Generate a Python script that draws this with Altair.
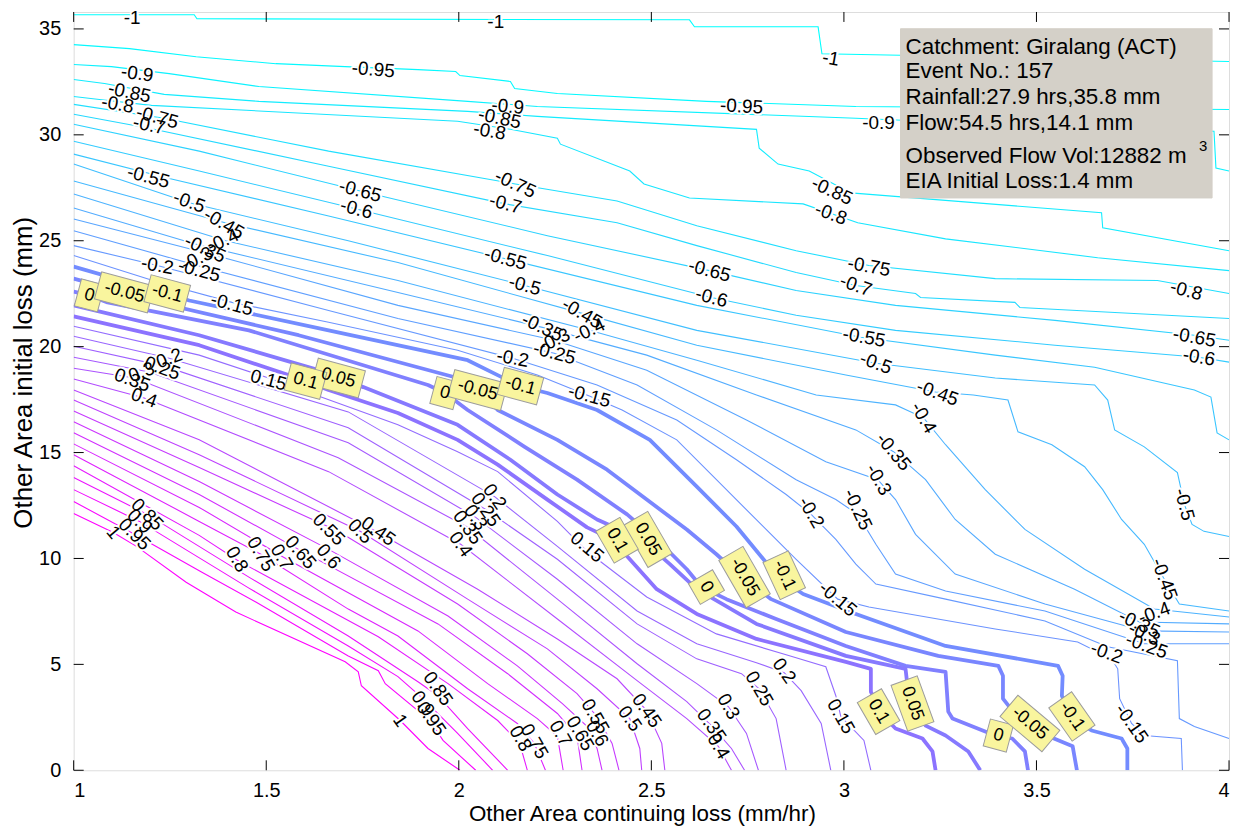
import altair as alt
import pandas as pd

FONT = "Liberation Sans"

# ---------------- contour lines (x: mm/hr, y: mm) ----------------
NEG_THIN = [
    (-1.00, [1.000, 1.313, 1.320, 2.599, 2.612, 2.933, 2.943, 4.000],
            [35.67, 35.67, 35.48, 35.43, 35.10, 35.10, 33.83, 33.46]),
    (-0.95, [1.000, 1.145, 1.318, 1.525, 1.705, 1.894, 1.992, 2.003, 2.134, 2.145, 2.256, 2.643, 3.031, 4.000],
            [34.26, 34.07, 33.69, 33.36, 33.22, 33.08, 32.99, 32.80, 32.52, 32.19, 31.95, 31.58, 31.34, 31.20]),
    (-0.90, [1.000, 1.098, 1.248, 1.481, 2.023, 2.204, 3.031, 3.393, 3.961, 3.966, 4.000],
            [33.32, 33.22, 32.89, 32.28, 31.58, 31.34, 30.78, 30.50, 30.17, 28.43, 28.29]),
    (-0.85, [1.000, 1.080, 1.235, 1.481, 2.023, 2.204, 2.773, 2.780, 2.829, 2.910, 3.018, 3.669, 3.672, 4.000],
            [32.61, 32.42, 31.91, 31.58, 31.11, 30.87, 30.26, 29.37, 28.62, 28.29, 27.26, 26.32, 25.61, 24.53]),
    (-0.80, [1.000, 1.067, 1.202, 1.997, 2.134, 2.256, 2.264, 2.444, 2.481, 2.599, 2.894, 3.036, 3.264, 3.659, 4.000],
            [31.81, 31.67, 31.39, 30.64, 30.26, 29.84, 29.56, 28.29, 27.68, 27.02, 26.74, 25.85, 25.09, 24.20, 23.59]),
    (-0.75, [1.000, 1.235, 1.662, 2.147, 2.411, 2.618, 2.876, 3.065, 3.393, 3.814, 4.000],
            [31.44, 30.78, 29.23, 27.68, 26.88, 25.71, 24.53, 23.83, 23.21, 23.12, 22.51]),
    (-0.70, [1.000, 1.196, 1.662, 2.121, 2.411, 2.618, 2.876, 3.031, 3.186, 3.199, 3.444, 3.457, 4.000],
            [30.97, 30.31, 28.52, 26.74, 25.85, 24.77, 23.50, 22.89, 22.51, 22.32, 22.09, 21.85, 21.33]),
    (-0.65, [1.000, 1.326, 1.744, 2.230, 2.651, 2.876, 3.134, 3.548, 3.910, 4.000],
            [30.50, 29.23, 27.35, 25.24, 23.59, 22.65, 21.95, 21.24, 20.54, 20.30]),
    (-0.60, [1.000, 1.326, 1.734, 2.230, 2.656, 2.876, 3.134, 3.548, 3.922, 4.000],
            [29.70, 28.29, 26.50, 24.30, 22.32, 21.48, 20.77, 20.07, 19.50, 19.27]),
    (-0.55, [1.000, 1.243, 1.662, 2.121, 2.618, 3.044, 3.393, 3.651, 3.910, 3.953, 3.969, 4.000],
            [29.09, 27.96, 26.17, 24.15, 21.95, 20.44, 19.60, 19.03, 17.95, 17.62, 15.93, 15.60]),
    (-0.50, [1.000, 1.300, 1.713, 2.171, 2.618, 3.083, 3.393, 3.651, 3.685, 3.703, 3.780, 3.866, 3.884, 3.904, 3.935, 4.000],
            [28.62, 26.79, 25.00, 22.89, 20.77, 19.22, 18.52, 18.19, 17.48, 16.07, 15.27, 14.05, 12.55, 11.61, 11.28, 11.04]),
    (-0.45, [1.000, 1.393, 1.842, 2.320, 2.618, 3.005, 3.238, 3.336, 3.426, 3.452, 3.540, 3.625, 3.672, 3.721, 3.780, 3.832, 3.871, 4.000],
            [27.82, 25.85, 23.97, 21.57, 20.07, 18.66, 17.86, 17.72, 17.48, 15.98, 15.37, 14.33, 13.25, 11.84, 10.67, 9.02, 7.85, 7.52]),
    (-0.40, [1.000, 1.395, 1.842, 2.339, 2.618, 2.928, 3.134, 3.207, 3.264, 3.367, 3.470, 3.625, 3.806, 4.000],
            [27.21, 25.00, 23.12, 20.77, 19.36, 17.72, 17.25, 16.64, 15.37, 13.25, 11.37, 9.49, 7.61, 7.24]),
    (-0.35, [1.000, 1.313, 1.842, 2.217, 2.488, 2.773, 3.031, 3.129, 3.212, 3.289, 3.393, 3.599, 3.767, 4.000],
            [26.55, 24.86, 22.56, 20.91, 19.60, 17.72, 16.07, 15.04, 13.72, 11.84, 10.20, 8.55, 7.00, 6.91]),
    (-0.30, [1.000, 1.351, 1.842, 2.248, 2.488, 2.747, 2.953, 3.088, 3.134, 3.186, 3.289, 3.522, 3.780, 4.000],
            [26.03, 24.39, 21.95, 20.30, 18.89, 16.54, 14.57, 13.72, 12.78, 11.14, 9.26, 7.85, 6.58, 6.53]),
    (-0.25, [1.000, 1.351, 1.842, 2.248, 2.463, 2.669, 2.876, 2.979, 3.036, 3.083, 3.134, 3.264, 3.522, 3.780, 4.000],
            [25.47, 23.68, 21.33, 19.69, 18.19, 16.07, 13.72, 12.78, 12.08, 10.67, 9.26, 8.46, 7.52, 5.97, 5.97]),
    (-0.20, [1.000, 1.217, 1.662, 2.140, 2.359, 2.566, 2.721, 2.850, 2.915, 2.979, 3.031, 3.083, 3.264, 3.522, 3.685, 3.866, 3.871, 3.910, 4.000],
            [24.77, 23.83, 21.71, 19.45, 18.19, 16.54, 14.66, 13.02, 12.08, 10.90, 9.73, 8.79, 8.08, 7.05, 5.83, 5.17, 2.44, 2.07, 1.50]),
    (-0.15, [1.000, 1.222, 1.411, 1.662, 1.997, 2.204, 2.339, 2.424, 2.566, 2.669, 2.798, 2.876, 2.984, 3.065, 3.393, 3.607, 3.695, 3.711, 3.716, 3.747, 3.780, 3.876, 3.879],
            [24.30, 23.03, 22.09, 21.15, 19.83, 18.66, 17.67, 17.01, 15.60, 13.72, 11.37, 9.96, 8.08, 7.71, 6.67, 6.06, 5.26, 4.79, 3.38, 2.21, 1.64, 1.50, 0.00]),
]

THICK = [
    (-0.10, [1.000, 1.243, 1.300, 1.662, 2.023, 2.158, 2.230, 2.359, 2.496, 2.618, 2.721, 2.829, 2.894, 3.031, 3.264, 3.556, 3.568, 3.566, 3.592, 3.643, 3.721, 3.736, 3.736],
            [23.78, 22.51, 22.18, 20.77, 19.36, 18.14, 17.81, 17.01, 15.60, 13.39, 11.51, 9.12, 8.32, 7.38, 5.87, 4.93, 4.46, 3.52, 2.44, 1.88, 1.50, 1.03, 0.00]),
    (-0.05, [1.000, 1.132, 1.196, 1.584, 1.997, 2.049, 2.101, 2.256, 2.385, 2.488, 2.592, 2.669, 2.726, 2.811, 3.005, 3.245, 3.401, 3.413, 3.413, 3.470, 3.594, 3.605],
            [23.21, 22.56, 22.18, 20.54, 18.52, 17.95, 17.01, 15.60, 14.19, 12.78, 11.37, 10.20, 9.26, 8.08, 6.53, 5.40, 4.93, 4.46, 3.38, 2.07, 1.13, 0.00]),
    (0.00, [1.000, 1.041, 1.088, 1.455, 1.920, 1.964, 2.023, 2.171, 2.307, 2.437, 2.527, 2.592, 2.630, 2.695, 2.824, 3.005, 3.160, 3.264, 3.271, 3.282, 3.393, 3.437, 3.470, 3.478],
           [22.60, 22.42, 22.09, 20.77, 18.19, 17.81, 17.01, 15.27, 13.72, 12.08, 10.67, 9.49, 8.65, 8.08, 7.14, 5.87, 4.93, 4.65, 2.77, 2.44, 1.64, 1.50, 0.89, 0.00]),
    (0.05, [1.000, 1.326, 1.636, 1.687, 1.752, 1.997, 2.134, 2.256, 2.359, 2.475, 2.548, 2.618, 2.773, 3.005, 3.160, 3.165, 3.178, 3.212, 3.264, 3.323, 3.354],
           [21.95, 20.54, 18.89, 18.52, 18.09, 16.31, 14.66, 13.02, 11.84, 10.90, 9.73, 8.55, 6.91, 5.40, 4.79, 3.99, 3.15, 2.11, 1.64, 0.89, 0.00]),
    (0.10, [1.000, 1.326, 1.558, 1.602, 1.662, 1.842, 1.997, 2.101, 2.230, 2.333, 2.398, 2.444, 2.514, 2.618, 2.773, 3.005, 3.070, 3.070, 3.096, 3.134, 3.204, 3.230, 3.238],
           [21.43, 20.07, 18.66, 18.37, 17.95, 16.87, 15.60, 14.43, 12.78, 11.47, 10.90, 9.96, 8.55, 7.38, 6.20, 5.12, 4.79, 3.71, 2.68, 1.97, 1.50, 0.89, 0.00]),
]

POS_THIN = [
    (0.15, [1.000, 1.326, 1.506, 1.842, 1.997, 2.101, 2.256, 2.333, 2.488, 2.669, 2.850, 2.953, 2.979, 2.992, 3.052, 3.070],
           [20.96, 19.60, 18.52, 16.31, 15.04, 14.10, 11.75, 10.34, 8.18, 6.44, 5.45, 4.89, 3.52, 2.54, 1.41, 0.00]),
    (0.20, [1.000, 1.248, 1.713, 2.093, 2.256, 2.463, 2.618, 2.773, 2.845, 2.889, 2.941, 2.966],
           [20.49, 19.45, 16.92, 12.92, 10.57, 7.52, 5.97, 5.08, 4.61, 3.76, 2.21, 0.00]),
    (0.25, [1.000, 1.235, 1.713, 2.070, 2.256, 2.463, 2.618, 2.734, 2.780, 2.824, 2.850],
           [20.02, 19.08, 16.17, 12.31, 9.96, 6.91, 5.26, 4.56, 3.85, 2.44, 0.00]),
    (0.30, [1.000, 1.196, 1.713, 2.044, 2.256, 2.463, 2.618, 2.700, 2.747, 2.778],
           [19.50, 18.80, 15.46, 11.94, 9.02, 5.97, 4.09, 3.01, 1.74, 0.00]),
    (0.35, [1.000, 1.158, 1.687, 2.023, 2.256, 2.463, 2.592, 2.656, 2.708, 2.742],
           [18.98, 18.52, 14.76, 11.47, 8.08, 5.03, 3.24, 2.11, 1.03, 0.00]),
    (0.40, [1.000, 1.183, 1.662, 2.005, 2.256, 2.463, 2.592, 2.674, 2.708],
           [18.47, 17.58, 14.10, 10.67, 7.14, 4.23, 2.44, 1.13, 0.00]),
    (0.45, [1.000, 1.326, 1.791, 2.049, 2.256, 2.411, 2.488, 2.527, 2.535],
           [17.95, 15.60, 11.23, 8.55, 6.20, 4.32, 2.82, 1.27, 0.00]),
    (0.50, [1.000, 1.326, 1.744, 2.023, 2.230, 2.359, 2.444, 2.470, 2.475],
           [17.48, 14.90, 11.28, 8.08, 5.73, 3.85, 2.44, 1.03, 0.00]),
    (0.55, [1.000, 1.326, 1.687, 1.997, 2.178, 2.307, 2.359, 2.398, 2.416],
           [16.96, 14.29, 11.28, 7.85, 5.50, 3.62, 2.54, 1.27, 0.00]),
    (0.60, [1.000, 1.326, 1.662, 1.972, 2.152, 2.269, 2.333, 2.359, 2.372],
           [16.45, 13.63, 10.43, 7.28, 4.93, 3.15, 2.07, 1.03, 0.00]),
    (0.65, [1.000, 1.326, 1.584, 1.946, 2.127, 2.256, 2.307, 2.320],
           [15.93, 13.02, 10.43, 6.91, 4.56, 2.68, 1.60, 0.00]),
    (0.70, [1.000, 1.326, 1.545, 1.894, 2.075, 2.204, 2.256, 2.271],
           [15.41, 12.41, 10.06, 6.58, 4.09, 2.44, 1.60, 0.00]),
    (0.75, [1.000, 1.326, 1.486, 1.713, 1.842, 2.023, 2.152, 2.196, 2.225],
           [14.90, 11.75, 10.20, 7.61, 6.34, 3.85, 2.21, 1.27, 0.00]),
    (0.80, [1.000, 1.326, 1.429, 1.791, 1.972, 2.101, 2.158, 2.178],
           [14.38, 11.09, 9.87, 6.30, 4.09, 2.35, 1.27, 0.00]),
    (0.85, [1.000, 1.191, 1.455, 1.713, 1.894, 1.946, 2.023, 2.127],
           [13.82, 12.08, 9.12, 6.34, 4.18, 3.52, 1.97, 0.00]),
    (0.90, [1.000, 1.171, 1.455, 1.713, 1.842, 1.907, 1.997, 2.088],
           [13.25, 11.75, 8.60, 5.87, 4.42, 3.38, 1.74, 0.00]),
    (0.95, [1.000, 1.158, 1.333, 1.473, 1.713, 1.791, 1.809, 1.925, 1.959, 2.044],
           [12.69, 11.14, 9.35, 7.94, 5.40, 4.70, 4.09, 2.35, 1.41, 0.00]),
    (1.00, [1.000, 1.103, 1.163, 1.292, 1.421, 1.705, 1.739, 1.747, 1.848, 1.920, 2.003],
           [12.12, 11.23, 10.57, 8.88, 7.47, 5.12, 4.65, 3.99, 2.35, 1.03, 0.00]),
]

# ---------------- contour labels: (text, x, y, rotation deg) ----------------
THIN_LABELS = [
    ("-1", 1.152, 35.53, 0), ("-1", 2.096, 35.34, 0), ("-1", 2.966, 33.60, 10),
    ("-0.95", 1.778, 33.08, 5), ("-0.95", 2.734, 31.34, 3),
    ("-0.9", 1.165, 32.89, 8), ("-0.9", 2.127, 31.34, 5), ("-0.9", 3.090, 30.55, 0),
    ("-0.85", 1.145, 32.00, 12), ("-0.85", 2.106, 30.78, 12), ("-0.85", 2.969, 27.35, 25),
    ("-0.8", 1.114, 31.44, 10), ("-0.8", 2.080, 30.17, 10), ("-0.8", 2.966, 26.27, 20), ("-0.8", 3.889, 22.65, 15),
    ("-0.75", 1.217, 30.83, 15), ("-0.75", 2.147, 27.68, 25), ("-0.75", 3.065, 23.78, 10),
    ("-0.7", 1.196, 30.45, 12), ("-0.7", 2.121, 26.74, 15), ("-0.7", 3.031, 22.89, 20),
    ("-0.65", 1.744, 27.35, 15), ("-0.65", 2.651, 23.59, 15), ("-0.65", 3.910, 20.44, 10),
    ("-0.6", 1.734, 26.50, 15), ("-0.6", 2.656, 22.32, 15), ("-0.6", 3.922, 19.50, 10),
    ("-0.55", 1.194, 28.01, 15), ("-0.55", 2.121, 24.15, 15), ("-0.55", 3.052, 20.44, 10),
    ("-0.5", 1.300, 26.83, 20), ("-0.5", 2.171, 22.89, 15), ("-0.5", 3.083, 19.22, 20), ("-0.5", 3.884, 12.55, 75),
    ("-0.45", 1.390, 25.80, 30), ("-0.45", 2.320, 21.57, 30), ("-0.45", 3.243, 17.81, 20), ("-0.45", 3.832, 9.02, 70),
    ("-0.4", 1.388, 25.00, 335), ("-0.4", 2.339, 20.77, 335), ("-0.4", 3.207, 16.64, 60), ("-0.4", 3.806, 7.42, 340),
    ("-0.35", 1.341, 24.62, 25), ("-0.35", 2.217, 20.91, 25), ("-0.35", 3.129, 15.04, 50), ("-0.35", 3.767, 6.91, 25),
    ("-0.3", 1.320, 24.15, 335), ("-0.3", 2.248, 20.30, 335), ("-0.3", 3.090, 13.72, 60), ("-0.3", 3.780, 6.44, 25),
    ("-0.25", 1.326, 23.59, 15), ("-0.25", 2.248, 19.69, 15), ("-0.25", 3.036, 12.31, 65), ("-0.25", 3.786, 5.87, 20),
    ("-0.2", 1.217, 23.83, 10), ("-0.2", 2.140, 19.45, 10), ("-0.2", 2.915, 12.17, 60), ("-0.2", 3.682, 5.55, 20),
    ("-0.15", 1.411, 21.99, 15), ("-0.15", 2.339, 17.67, 15), ("-0.15", 2.984, 8.08, 40), ("-0.15", 3.747, 2.21, 55),
    ("0.15", 1.506, 18.42, 15), ("0.15", 2.333, 10.53, 40), ("0.15", 2.992, 2.54, 60),
    ("0.2", 1.248, 19.45, 340), ("0.2", 2.093, 12.92, 55), ("0.2", 2.845, 4.70, 55),
    ("0.25", 1.230, 18.98, 20), ("0.25", 2.070, 12.31, 55), ("0.25", 2.780, 3.85, 60),
    ("0.3", 1.176, 18.80, 340), ("0.3", 2.044, 11.94, 55), ("0.3", 2.700, 3.01, 60),
    ("0.35", 1.152, 18.42, 20), ("0.35", 2.023, 11.47, 55), ("0.35", 2.656, 2.11, 55),
    ("0.4", 1.183, 17.58, 20), ("0.4", 2.005, 10.67, 55), ("0.4", 2.674, 1.13, 60),
    ("0.45", 1.791, 11.28, 35), ("0.45", 2.488, 2.82, 55),
    ("0.5", 1.744, 11.28, 45), ("0.5", 2.444, 2.44, 55),
    ("0.55", 1.662, 11.37, 45), ("0.55", 2.354, 2.54, 60),
    ("0.6", 1.662, 10.10, 50), ("0.6", 2.359, 1.74, 60),
    ("0.65", 1.589, 10.29, 50), ("0.65", 2.315, 1.74, 60),
    ("0.7", 1.540, 10.06, 60), ("0.7", 2.264, 1.74, 60),
    ("0.75", 1.486, 10.20, 60), ("0.75", 2.196, 1.36, 60),
    ("0.8", 1.424, 9.96, 60), ("0.8", 2.160, 1.50, 60),
    ("0.85", 1.191, 12.08, 45), ("0.85", 1.946, 3.85, 55),
    ("0.9", 1.171, 11.75, 45), ("0.9", 1.907, 3.15, 55),
    ("0.95", 1.158, 11.14, 45), ("0.95", 1.928, 2.44, 55),
    ("1", 1.103, 11.23, 50), ("1", 1.848, 2.35, 55),
]

BOX_LABELS = [
    ("0", 1.041, 22.42, 15), ("0", 1.964, 17.81, 15), ("0", 2.643, 8.65, 60), ("0", 3.401, 1.64, 15),
    ("-0.05", 1.132, 22.56, 15), ("-0.05", 2.049, 17.95, 15), ("-0.05", 2.742, 9.12, 60), ("-0.05", 3.483, 2.21, 40),
    ("-0.1", 1.243, 22.51, 15), ("-0.1", 2.160, 18.14, 15), ("-0.1", 2.845, 9.21, 65), ("-0.1", 3.592, 2.54, 55),
    ("0.05", 1.687, 18.52, 15), ("0.05", 2.491, 10.90, 60), ("0.05", 3.178, 3.15, 70),
    ("0.1", 1.602, 18.37, 15), ("0.1", 2.411, 10.86, 60), ("0.1", 3.090, 2.77, 60),
]

# ---------------- annotation box ----------------
INFO_LINES = ["Catchment: Giralang (ACT)", "Event No.: 157", "Rainfall:27.9 hrs,35.8 mm",
              "Flow:54.5 hrs,14.1 mm", "Observed Flow Vol:12882 m", "EIA Initial Loss:1.4 mm"]
INFO_X = 3.160
INFO_Y = [33.83, 32.66, 31.44, 30.22, 28.67, 27.49]
INFO_BOX = (3.147, 3.956, 27.02, 35.01)
SUP = ("3", 3.922, 29.23)

XTICKS = [1, 1.5, 2, 2.5, 3, 3.5, 4]
YTICKS = [0, 5, 10, 15, 20, 25, 30, 35]
XDOM = [1, 4]
YDOM = [0, 35.8]

# ---------------- build tables ----------------
def lines_df(group, tag):
    rows = []
    for lvl, xs, ys in group:
        for i, (x, y) in enumerate(zip(xs, ys)):
            rows.append({"level": lvl, "x": x, "y": y, "i": i, "key": f"{tag}{lvl:+.2f}"})
    return pd.DataFrame(rows)

thin_df = lines_df(NEG_THIN + POS_THIN, "t")
thick_df = lines_df(THICK, "k")
lab_df = pd.DataFrame(THIN_LABELS, columns=["text", "x", "y", "a"])

BOX_W = {"0": 24, "0.1": 37, "-0.1": 41, "0.05": 49, "-0.05": 55}
BOX_H = 28
box_df = pd.DataFrame(BOX_LABELS, columns=["text", "x", "y", "a"])
box_df["shape"] = box_df["text"].map(
    lambda t: "M{0},{1}L{2},{1}L{2},{3}L{0},{3}Z".format(-BOX_W[t] / 20, -BOX_H / 20, BOX_W[t] / 20, BOX_H / 20))

tick_rows = []
for v in XTICKS:
    tick_rows.append({"x": v, "x2": v, "y": 0, "y2": 0.47})
    tick_rows.append({"x": v, "x2": v, "y": 35.8, "y2": 35.33})
for v in YTICKS:
    tick_rows.append({"x": 1, "x2": 1.026, "y": v, "y2": v})
    tick_rows.append({"x": 3.974, "x2": 4, "y": v, "y2": v})
ticks_df = pd.DataFrame(tick_rows)

info_df = pd.DataFrame({"text": INFO_LINES, "x": INFO_X, "y": INFO_Y})
rect_df = pd.DataFrame([{"x": INFO_BOX[0], "x2": INFO_BOX[1], "y": INFO_BOX[2], "y2": INFO_BOX[3]}])
sup_df = pd.DataFrame([{"text": SUP[0], "x": SUP[1], "y": SUP[2]}])

# ---------------- scales / axes ----------------
xscale = alt.Scale(domain=XDOM, nice=False, zero=False)
yscale = alt.Scale(domain=YDOM, nice=False, zero=False)
xaxis = alt.Axis(values=XTICKS, format="~g", grid=False, domain=False, ticks=False,
                 labelFont=FONT, labelFontSize=20, labelColor="black", labelPadding=10,
                 title="Other Area continuing loss (mm/hr)", titleFont=FONT, titleFontSize=22.5,
                 titleFontWeight="normal", titleColor="black", titleX=571, titleY=50,
                 titleAlign="center", titleBaseline="alphabetic")
yaxis = alt.Axis(values=YTICKS, format="d", grid=False, domain=False, ticks=False,
                 labelFont=FONT, labelFontSize=20, labelColor="black", labelPadding=13,
                 title="Other Area initial loss (mm)", titleFont=FONT, titleFontSize=26,
                 titleFontWeight="normal", titleColor="black", titleX=-42, titleY=362,
                 titleAngle=270, titleAlign="center", titleBaseline="alphabetic")

X = alt.X("x:Q", scale=xscale, axis=xaxis)
Y = alt.Y("y:Q", scale=yscale, axis=yaxis)
cscale = alt.Scale(domain=[-1, 1], range=["#00ffff", "#ff00ff"], interpolate="rgb")

thin = alt.Chart(thin_df).mark_line(strokeWidth=1.1, clip=True).encode(
    x=X, y=Y, color=alt.Color("level:Q", scale=cscale, legend=None),
    detail="key:N", order="i:Q")
thick = alt.Chart(thick_df).mark_line(strokeWidth=3.8, clip=True, strokeJoin="round").encode(
    x=X, y=Y, color=alt.Color("level:Q", scale=cscale, legend=None),
    detail="key:N", order="i:Q")

halo = alt.Chart(lab_df).mark_text(font=FONT, fontSize=19, fill="white", stroke="white",
                                   strokeWidth=4, strokeJoin="round").encode(
    x=X, y=Y, text="text:N", angle=alt.Angle("a:Q", scale=None))
labels = alt.Chart(lab_df).mark_text(font=FONT, fontSize=19, color="black").encode(
    x=X, y=Y, text="text:N", angle=alt.Angle("a:Q", scale=None))

boxes = alt.Chart(box_df).mark_point(size=400, filled=True, fill="#f9f59e", stroke="#9c9c9c",
                                     strokeWidth=1, opacity=1).encode(
    x=X, y=Y, shape=alt.Shape("shape:N", scale=None), angle=alt.Angle("a:Q", scale=None))
box_text = alt.Chart(box_df).mark_text(font=FONT, fontSize=18, color="black").encode(
    x=X, y=Y, text="text:N", angle=alt.Angle("a:Q", scale=None))

ticks = alt.Chart(ticks_df).mark_rule(color="black", strokeWidth=1).encode(
    x=X, x2="x2:Q", y=Y, y2="y2:Q")

rect = alt.Chart(rect_df).mark_rect(fill="#d4d0c8", stroke="#d4d0c8").encode(
    x=X, x2="x2:Q", y=Y, y2="y2:Q")
info = alt.Chart(info_df).mark_text(font=FONT, fontSize=22.5, color="black", align="left",
                                    baseline="alphabetic").encode(x=X, y=Y, text="text:N")
sup = alt.Chart(sup_df).mark_text(font=FONT, fontSize=15, color="black", align="left",
                                  baseline="alphabetic").encode(x=X, y=Y, text="text:N")

chart = alt.layer(thin, thick, halo, labels, boxes, box_text, ticks, rect, info, sup).properties(
    width=1161, height=762,
    padding={"left": 66, "top": 2, "right": 5, "bottom": 57},
    autosize=alt.AutoSizeParams(type="none"),
).configure_view(stroke="black", strokeWidth=1.3).configure(background="white")

chart.save("out.html", embed_options={"renderer": "svg", "actions": False})
